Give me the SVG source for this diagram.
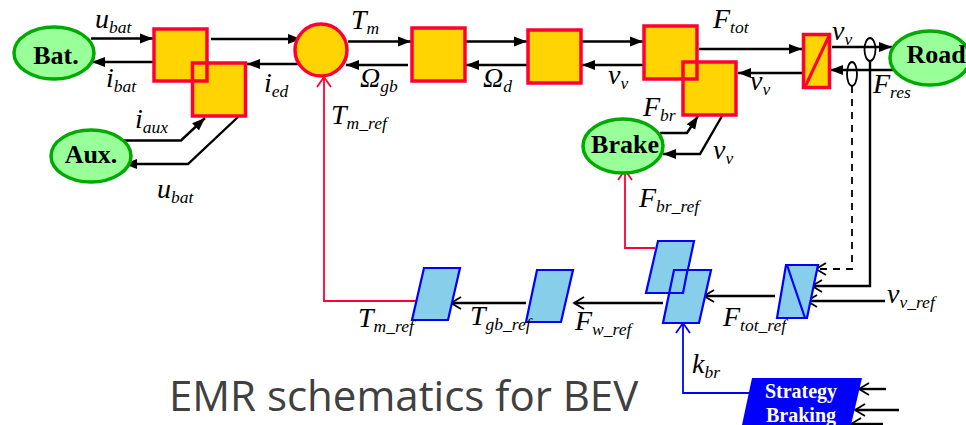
<svg xmlns="http://www.w3.org/2000/svg" width="966" height="425" viewBox="0 0 966 425">
<style>
.src{fill:#99ff99;stroke:#00aa00;stroke-width:3.5}
.blk{fill:#ffd400;stroke:#ff0033;stroke-width:3.5}
.ol{fill:none;stroke:#ff0033;stroke-width:3.5}
.est{fill:#87ceeb;stroke:#0000ff;stroke-width:2.2}
.c{fill:none;stroke:#000;stroke-width:2.4}
.af{marker-end:url(#af)}
.ao{marker-end:url(#ao)}
.d{stroke-dasharray:7 6;stroke-width:1.8}
.red{fill:none;stroke:#ff0033;stroke-width:1.8;marker-end:url(#ar)}
.blue{fill:none;stroke:#0000ff;stroke-width:1.8;marker-end:url(#ab)}
.nl{font:bold 26px "Liberation Serif",serif;text-anchor:middle;fill:#000}
.l{font:italic 28px "Liberation Serif",serif;fill:#000}
.l tspan{font-size:17.500px}
.st{font:bold 20px "Liberation Serif",serif;fill:#fff;text-anchor:middle}
.t{font:42px "Open Sans",sans-serif;fill:#404040}
</style>
<defs>
<marker id="af" markerUnits="userSpaceOnUse" markerWidth="14" markerHeight="12" refX="13" refY="6" orient="auto"><path d="M0 1L13 6L0 11z" fill="#000"/></marker>
<marker id="ao" markerUnits="userSpaceOnUse" markerWidth="14" markerHeight="14" refX="12" refY="7" orient="auto"><path d="M2 1L12 7L2 13" fill="none" stroke="#000" stroke-width="1.800"/></marker>
<marker id="ar" markerUnits="userSpaceOnUse" markerWidth="14" markerHeight="16" refX="12" refY="8" orient="auto"><path d="M2 1L12 8L2 15" fill="none" stroke="#ff0033" stroke-width="1.800"/></marker>
<marker id="ab" markerUnits="userSpaceOnUse" markerWidth="14" markerHeight="16" refX="12" refY="8" orient="auto"><path d="M2 1L12 8L2 15" fill="none" stroke="#0000ff" stroke-width="1.800"/></marker>
</defs>
<g id="connectors">
<path class="c af" d="M91 38.500H153"/>
<path class="c af" d="M153 62H92"/>
<path class="c af" d="M211 39H301"/>
<path class="c af" d="M298 64H247"/>
<path class="c af" d="M123 140.500H181L205 118"/>
<path class="c af" d="M238 117L188 164H124"/>
<path class="c af" d="M348 41.500H411"/>
<path class="c af" d="M408 65H346"/>
<path class="c af" d="M466 41.500H527"/>
<path class="c af" d="M527 65H466"/>
<path class="c af" d="M579 41.500H643"/>
<path class="c af" d="M643 65H582"/>
<path class="c af" d="M699 49H802"/>
<path class="c af" d="M802 73H738"/>
<path class="c af" d="M832 47H892"/>
<path class="c af" d="M894 70H830"/>
<path class="c af" d="M660 133H687L698 116"/>
<path class="c af" d="M722 116L700 154H663"/>
<path class="c ao" d="M870 61V286H812"/>
<path class="c ao d" d="M852 86V269H816"/>
<path class="c ao" d="M885 301H807"/>
<path class="c ao" d="M775 296H704"/>
<path class="c ao" d="M663 303H574"/>
<path class="c ao" d="M526 303H451"/>
<path class="c ao" d="M886 389H859"/>
<path class="c ao" d="M899 410H855"/>
<path class="c ao" d="M883 424H851"/>
<path class="red" d="M417 301H324V77"/>
<path class="red" d="M655 248H625V170"/>
<path class="blue" d="M750 393H683V323"/>
<ellipse cx="870" cy="49.500" rx="5.500" ry="11.500" fill="none" stroke="#000" stroke-width="1.800"/>
<ellipse cx="852" cy="74" rx="5" ry="12" fill="none" stroke="#000" stroke-width="1.800"/>
</g>
<g id="bat"><ellipse class="src" cx="54" cy="53" rx="40" ry="26"/><text class="nl" x="56" y="64">Bat.</text></g>
<g id="aux"><ellipse class="src" cx="91" cy="156" rx="40" ry="26"/><text class="nl" x="91" y="163">Aux.</text></g>
<g id="road"><ellipse class="src" cx="930" cy="58" rx="40" ry="27"/><text class="nl" x="936" y="63">Road</text></g>
<g id="brake"><ellipse class="src" cx="623" cy="146" rx="40" ry="27"/><text class="nl" x="625" y="153">Brake</text></g>
<g id="conv1"><rect class="blk" x="154" y="29" width="53" height="52"/></g>
<g id="conv2"><rect class="blk" x="192.500" y="63" width="53" height="53"/><path class="ol" d="M207 63V81H192.500"/></g>
<g id="motor"><circle class="blk" cx="321" cy="50" r="26"/></g>
<g id="gearbox"><rect class="blk" x="412" y="28" width="53" height="53"/></g>
<g id="diff"><rect class="blk" x="528" y="30" width="53" height="53"/></g>
<g id="wheel1"><rect class="blk" x="644" y="26" width="53" height="53"/></g>
<g id="wheel2"><rect class="blk" x="683" y="62" width="53" height="53"/><path class="ol" d="M697 62V79H683"/></g>
<g id="chassis"><rect class="blk" x="803.500" y="34.500" width="26" height="53"/><path d="M805 87L829 36" fill="none" stroke="#ff0033" stroke-width="3"/></g>
<g id="tm_est"><path class="est" d="M424 268H460L448 320H412z"/></g>
<g id="tgb_est"><path class="est" d="M537 270H573L561 322H526z"/></g>
<g id="fbr_est"><path class="est" d="M658 241H694L683 293H646z"/></g>
<g id="fw_est"><path class="est" d="M674 270H711L699 323H663z"/><path d="M687.500 270L683 293H668" fill="none" stroke="#0000ff" stroke-width="2.200"/></g>
<g id="ftot_est"><path class="est" d="M786 265H818L807 318H777z"/><path d="M787 265L805 318" fill="none" stroke="#0000ff" stroke-width="2.200"/></g>
<g id="strategy"><path d="M752 378H862L851 425H742z" fill="#0000ff"/><text class="st" x="801" y="398">Strategy</text><text class="st" x="801" y="422">Braking</text></g>
<g id="labels">
<text class="l" x="95" y="28">u<tspan dy="5">bat</tspan></text>
<text class="l" x="106" y="87">i<tspan dy="5">bat</tspan></text>
<text class="l" x="264" y="92">i<tspan dy="5">ed</tspan></text>
<text class="l" x="351" y="29">T<tspan dy="5">m</tspan></text>
<text class="l" x="360" y="87">Ω<tspan dy="5">gb</tspan></text>
<text class="l" x="331" y="124">T<tspan dy="5">m_ref</tspan></text>
<text class="l" x="135" y="128">i<tspan dy="5">aux</tspan></text>
<text class="l" x="157" y="198">u<tspan dy="5">bat</tspan></text>
<text class="l" x="483" y="87">Ω<tspan dy="5">d</tspan></text>
<text class="l" x="608" y="84">v<tspan dy="5">v</tspan></text>
<text class="l" x="713" y="28">F<tspan dy="5">tot</tspan></text>
<text class="l" x="750" y="90">v<tspan dy="5">v</tspan></text>
<text class="l" x="832" y="40">v<tspan dy="5">v</tspan></text>
<text class="l" x="873" y="93">F<tspan dy="5">res</tspan></text>
<text class="l" x="643" y="116">F<tspan dy="5">br</tspan></text>
<text class="l" x="713" y="159">v<tspan dy="5">v</tspan></text>
<text class="l" x="639" y="207">F<tspan dy="5">br_ref</tspan></text>
<text class="l" x="887" y="303">v<tspan dy="5">v_ref</tspan></text>
<text class="l" x="723" y="326">F<tspan dy="5">tot_ref</tspan></text>
<text class="l" x="692" y="373">k<tspan dy="5">br</tspan></text>
<text class="l" x="358" y="327">T<tspan dy="5">m_ref</tspan></text>
<text class="l" x="470" y="325">T<tspan dy="5">gb_ref</tspan></text>
<text class="l" x="575" y="330">F<tspan dy="5">w_ref</tspan></text>
</g>
<text class="t" x="169" y="411">EMR schematics for BEV</text>
</svg>
